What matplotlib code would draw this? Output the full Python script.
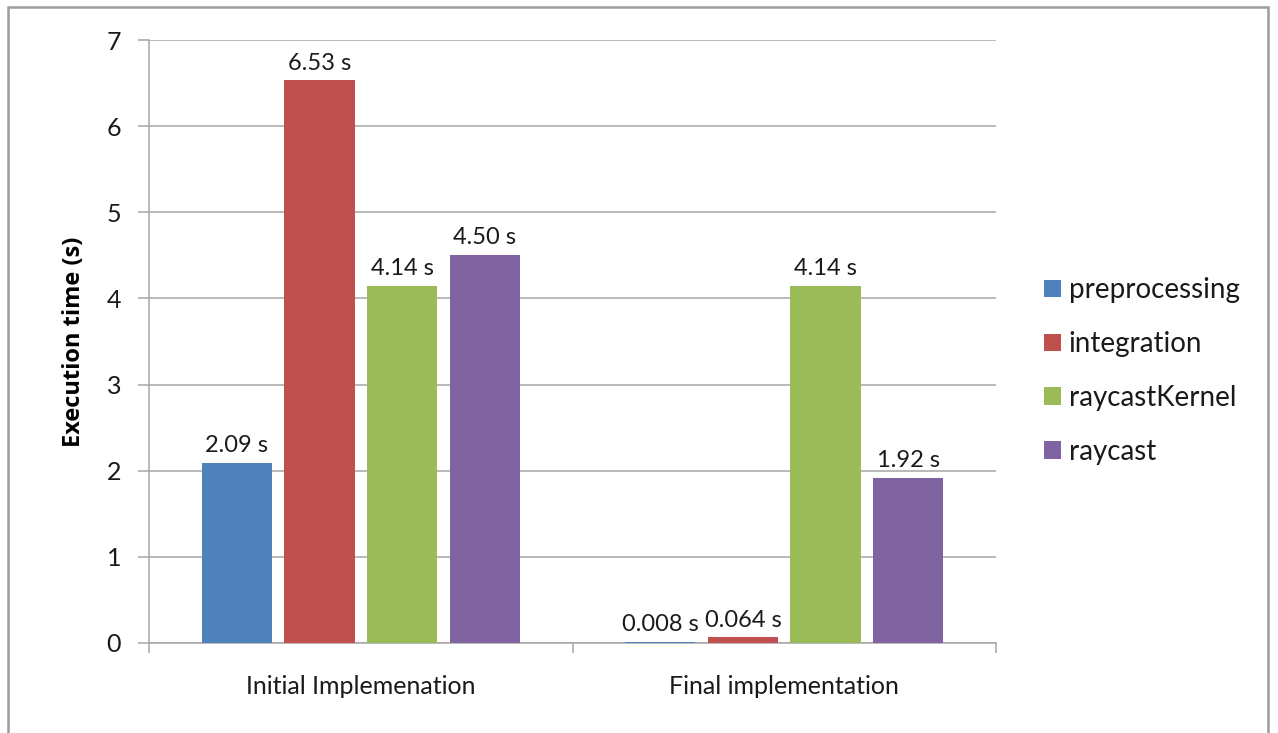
import matplotlib
matplotlib.use("Agg")
import matplotlib.pyplot as plt
from matplotlib.patches import Rectangle
import numpy as np

categories = ["Initial Implemenation", "Final implementation"]
series = ["preprocessing", "integration", "raycastKernel", "raycast"]
values = {
    "preprocessing": [2.09, 0.008],
    "integration": [6.53, 0.064],
    "raycastKernel": [4.14, 4.14],
    "raycast": [4.50, 1.92],
}
labels = {
    "preprocessing": ["2.09 s", "0.008 s"],
    "integration": ["6.53 s", "0.064 s"],
    "raycastKernel": ["4.14 s", "4.14 s"],
    "raycast": ["4.50 s", "1.92 s"],
}
colors = ["#4F81BD", "#C0504D", "#9BBB59", "#8064A2"]
yticks = [0, 1, 2, 3, 4, 5, 6, 7]

plt.rcParams["font.family"] = ["Lato", "DejaVu Sans"]

fig = plt.figure(figsize=(12.78, 7.33), dpi=100)
ax = fig.add_axes([149 / 1278, 1 - 643 / 733, (996 - 149) / 1278, (643 - 40) / 733])

# outer chart frame
fig.patches.append(Rectangle((8 / 1278, -0.01), (1268 - 8) / 1278, 1 - 7 / 733 + 0.01,
                             transform=fig.transFigure, fill=False,
                             edgecolor="#9c9c9c", linewidth=1.8))

grid_c = "#a6a6a6"
text_c = "#1a1a1a"
width = 0.1655
step = 0.195
centers = np.arange(len(categories)) + 0.5
for i, (name, col) in enumerate(zip(series, colors)):
    xs = centers + (i - 1.5) * step
    ax.bar(xs, values[name], width=width, color=col, zorder=3, label=name)
    for x, v, t in zip(xs, values[name], labels[name]):
        ax.annotate(t, (x, v), xytext=(0, 5), textcoords="offset points",
                    ha="center", va="bottom", fontsize=17, color=text_c)

ax.set_xlim(0, 2)
ax.set_ylim(0, 7)
ax.set_yticks(yticks)
ax.set_yticklabels([str(t) for t in yticks], fontsize=18, color=text_c)
ax.yaxis.grid(True, color=grid_c, linewidth=1.1, zorder=0)
ax.set_axisbelow(True)

ax.set_xticks([0, 1, 2])
ax.set_xticklabels([])
ax.set_xticks(centers, minor=True)
ax.set_xticklabels(categories, minor=True, fontsize=18, color=text_c)
ax.tick_params(axis="x", which="minor", length=0, pad=23)
ax.tick_params(axis="x", which="major", length=7, color=grid_c, width=1.1)
ax.tick_params(axis="y", length=8, color=grid_c, width=1.1, pad=12)

for s in ["top", "right"]:
    ax.spines[s].set_visible(False)
for s in ["left", "bottom"]:
    ax.spines[s].set_color(grid_c)
    ax.spines[s].set_linewidth(1.1)

ax.set_ylabel("Execution time (s)", fontsize=17, fontweight="bold",
              family=["Open Sans", "DejaVu Sans"], labelpad=15, color="#000000")

leg = ax.legend(loc="center left", bbox_to_anchor=(1.027, 0.451), frameon=False,
                fontsize=20, handlelength=0.6, handleheight=0.6, handletextpad=0.3,
                labelspacing=1.0)
for t in leg.get_texts():
    t.set_color(text_c)

fig.savefig("out.png", dpi=100)
